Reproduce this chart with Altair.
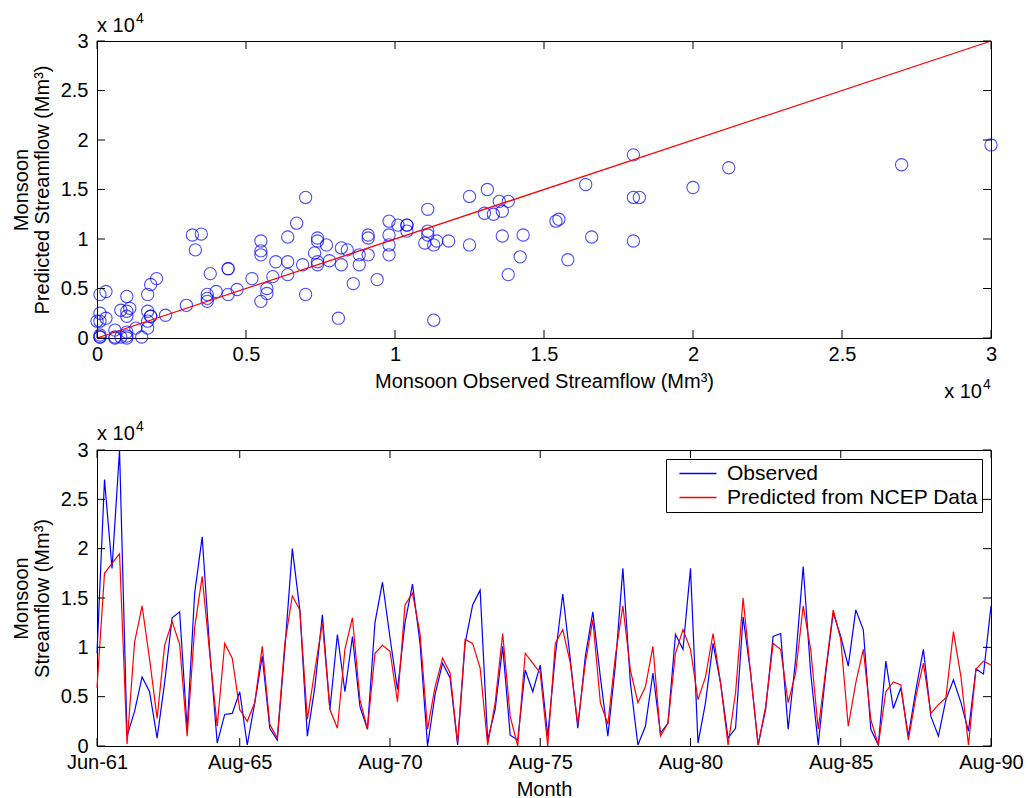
import json
import altair as alt
import pandas as pd

# Monsoon streamflow in units of 10^4 Mm^3, one value per monsoon month (Jun-Sep), 1961-1990
observed = [
    0.94, 2.70, 1.80, 3.00, 0.10, 0.35, 0.70, 0.55, 0.08, 0.64, 1.30, 1.36,
    0.17, 1.55, 2.12, 0.98, 0.03, 0.32, 0.33, 0.55, 0.01, 0.44, 0.91, 0.18,
    0.06, 0.98, 2.00, 1.38, 0.10, 0.60, 1.33, 0.37, 1.13, 0.55, 1.11, 0.40,
    0.17, 1.25, 1.66, 1.10, 0.57, 1.25, 1.64, 1.04, 0.00, 0.52, 0.84, 0.69,
    0.01, 1.04, 1.43, 1.58, 0.06, 0.37, 1.01, 0.11, 0.06, 0.77, 0.55, 0.82,
    0.10, 0.91, 1.54, 0.88, 0.18, 0.91, 1.36, 0.70, 0.10, 0.82, 1.80, 0.64,
    0.01, 0.20, 0.74, 0.13, 0.23, 1.13, 0.98, 1.80, 0.03, 0.44, 1.04, 0.64,
    0.08, 0.18, 1.31, 0.74, 0.01, 0.37, 1.11, 1.14, 0.17, 0.88, 1.82, 0.74,
    0.01, 0.74, 1.35, 1.11, 0.81, 1.38, 1.18, 0.17, 0.01, 0.86, 0.38, 0.59,
    0.10, 0.57, 0.98, 0.30, 0.10, 0.47, 0.67, 0.44, 0.15, 0.78, 0.73, 1.42,
]
predicted = [
    0.59, 1.75, 1.85, 1.95, 0.02, 1.05, 1.42, 0.88, 0.28, 1.02, 1.26, 1.03,
    0.10, 1.20, 1.72, 0.94, 0.20, 1.04, 0.89, 0.37, 0.25, 0.44, 1.01, 0.22,
    0.08, 1.04, 1.52, 1.38, 0.27, 0.77, 1.25, 0.37, 0.18, 0.98, 1.30, 0.47,
    0.17, 0.94, 1.02, 0.96, 0.45, 1.43, 1.55, 1.14, 0.17, 0.60, 0.89, 0.74,
    0.03, 1.08, 1.04, 0.79, 0.01, 0.44, 1.14, 0.30, 0.00, 0.94, 0.84, 0.74,
    0.00, 1.04, 1.18, 0.84, 0.22, 0.84, 1.28, 0.44, 0.22, 0.91, 1.42, 0.77,
    0.44, 0.60, 1.01, 0.10, 0.23, 0.94, 1.18, 0.98, 0.47, 0.70, 1.14, 0.64,
    0.01, 0.54, 1.50, 0.74, 0.01, 0.40, 1.04, 0.98, 0.44, 0.74, 1.42, 0.98,
    0.17, 0.77, 1.38, 1.08, 0.20, 0.64, 0.98, 0.27, 0.01, 0.55, 0.65, 0.62,
    0.06, 0.50, 0.84, 0.33, 0.42, 0.49, 1.16, 0.70, 0.01, 0.78, 0.86, 0.82,
]
month_tick_index = [1, 20, 40, 60, 80, 100, 120]
month_tick_label = ["Jun-61", "Aug-65", "Aug-70", "Aug-75", "Aug-80", "Aug-85", "Aug-90"]
value_ticks = [0, 0.5, 1, 1.5, 2, 2.5, 3]
one_to_one = [0, 3]
series_names = ["Observed", "Predicted from NCEP Data"]
series_colors = ["#0000FF", "#FF0000"]

FONT = "Liberation Sans"
W, H1, H2 = 894, 297, 296
TL = 8  # inward tick length

# ---------------- top: scatter ----------------
scatter_df = pd.DataFrame({"obs": observed, "pred": predicted})
diag_df = pd.DataFrame({"obs": one_to_one, "pred": one_to_one})
vt_df = pd.DataFrame({"obs": value_ticks, "pred": value_ticks})

X1 = alt.X("obs:Q", scale=alt.Scale(domain=[0, 3], nice=False, zero=False),
           axis=alt.Axis(values=value_ticks, format="~g", labelPadding=6, titlePadding=7),
           title="Monsoon Observed Streamflow (Mm³)")
Y1 = alt.Y("pred:Q", scale=alt.Scale(domain=[0, 3], nice=False, zero=False),
           axis=alt.Axis(values=value_ticks, format="~g", labelPadding=9, titlePadding=8,
                         titleLineHeight=21),
           title=["Monsoon", "Predicted Streamflow (Mm³)"])

pts = alt.Chart(scatter_df).mark_point(shape="circle", filled=False, size=150,
                                        strokeWidth=1.1, color="#0000FF", clip=False).encode(x=X1, y=Y1)
diag = alt.Chart(diag_df).mark_line(color="#FF0000", strokeWidth=1.3).encode(x=X1, y=Y1)
t_top = alt.Chart(vt_df).mark_rule(color="black").encode(x=X1, y=alt.value(0), y2=alt.value(TL))
t_bot = alt.Chart(vt_df).mark_rule(color="black").encode(x=X1, y=alt.value(H1 - TL), y2=alt.value(H1))
t_lft = alt.Chart(vt_df).mark_rule(color="black").encode(y=Y1, x=alt.value(0), x2=alt.value(TL))
t_rgt = alt.Chart(vt_df).mark_rule(color="black").encode(y=Y1, x=alt.value(W - TL), x2=alt.value(W))


def txt(s, x, y, size, align="left"):
    return alt.Chart(pd.DataFrame({"t": [s]})).mark_text(
        align=align, baseline="alphabetic", font=FONT, fontSize=size, color="black"
    ).encode(text="t:N", x=alt.value(x), y=alt.value(y))


top = alt.layer(
    pts, diag, t_top, t_bot, t_lft, t_rgt,
    txt("x 10", 0, -9, 20), txt("4", 39, -18, 14),
    txt("x 10", 885, H1 + 60, 20, "right"), txt("4", 886, H1 + 51, 14),
).properties(width=W, height=H1)

# ---------------- bottom: time series ----------------
idx = list(range(1, len(observed) + 1))
long_df = pd.DataFrame({
    "i": idx + idx,
    "v": observed + predicted,
    "s": [series_names[0]] * len(observed) + [series_names[1]] * len(predicted),
})
mt_df = pd.DataFrame({"i": month_tick_index})
vt2_df = pd.DataFrame({"v": value_ticks})

label_expr = f"{json.dumps(month_tick_label)}[indexof({json.dumps(month_tick_index)}, datum.value)]"
X2 = alt.X("i:Q", scale=alt.Scale(domain=[1, 120], nice=False, zero=False),
           axis=alt.Axis(values=month_tick_index, labelExpr=label_expr, labelPadding=6, titlePadding=7),
           title="Month")
Y2 = alt.Y("v:Q", scale=alt.Scale(domain=[0, 3], nice=False, zero=False),
           axis=alt.Axis(values=value_ticks, format="~g", labelPadding=9, titlePadding=8,
                         titleLineHeight=21),
           title=["Monsoon", "Streamflow (Mm³)"])

lines = alt.Chart(long_df).mark_line(strokeWidth=1.2).encode(
    x=X2, y=Y2,
    color=alt.Color("s:N", scale=alt.Scale(domain=series_names, range=series_colors),
                    legend=alt.Legend(title=None, orient="top-right", offset=9,
                                      strokeColor="black", fillColor="white", padding=4,
                                      rowPadding=2, symbolType="M-0.17,0H6.0", symbolSize=144,
                                      symbolStrokeWidth=1.3, labelOffset=36, labelLimit=500,
                                      labelExpr="datum.label + '\u00a0\u00a0'",
                                      labelFont=FONT, labelFontSize=21, labelColor="black")),
)
b_top = alt.Chart(mt_df).mark_rule(color="black").encode(x=X2, y=alt.value(0), y2=alt.value(TL))
b_bot = alt.Chart(mt_df).mark_rule(color="black").encode(x=X2, y=alt.value(H2 - TL), y2=alt.value(H2))
b_lft = alt.Chart(vt2_df).mark_rule(color="black").encode(y=Y2, x=alt.value(0), x2=alt.value(TL))
b_rgt = alt.Chart(vt2_df).mark_rule(color="black").encode(y=Y2, x=alt.value(W - TL), x2=alt.value(W))

bottom = alt.layer(
    lines, b_top, b_bot, b_lft, b_rgt,
    txt("x 10", 0, -10, 20), txt("4", 39, -19, 14),
).properties(width=W, height=H2)

chart = alt.vconcat(top, bottom, spacing=16).resolve_legend(color="independent").configure(
    padding={"left": 10, "top": 11, "right": 5, "bottom": 0}, background="white", font=FONT
).configure_view(stroke="black", strokeWidth=1).configure_axis(
    labelFont=FONT, titleFont=FONT, labelFontSize=20, titleFontSize=20, titleFontWeight="normal",
    labelColor="black", titleColor="black", grid=False, domain=False, ticks=False, tickSize=0,
    labelFlush=False, labelOverlap=False,
)

chart.save("out.html", embed_options={"renderer": "svg", "actions": False})
